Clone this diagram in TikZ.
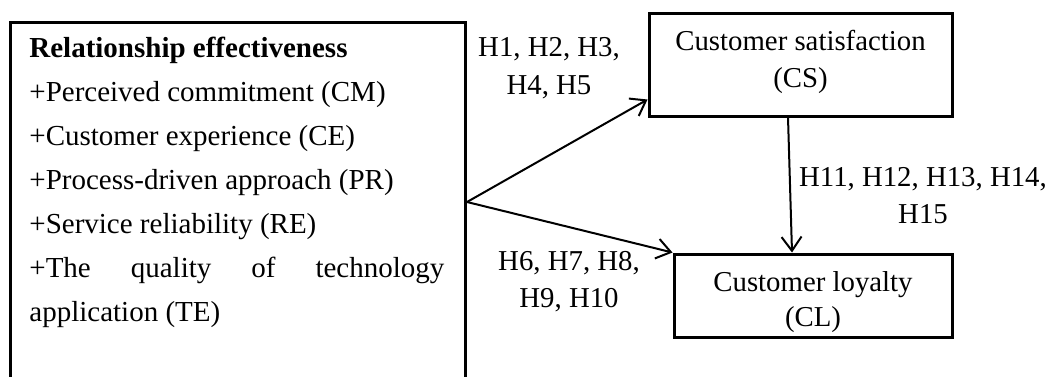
\documentclass[tikz,border=0pt]{standalone}
\usepackage{fontspec}
\setmainfont{Liberation Serif}
\usetikzlibrary{arrows.meta, positioning}

\begin{document}
\begin{tikzpicture}[x=0.5pt, y=-0.5pt, >={Straight Barb[length=7pt, width=10pt]},
    box/.style={draw, line width=1.5pt, inner sep=0pt},
    hyp/.style={align=center, inner sep=0pt, font=\fontsize{14.4pt}{#1}\selectfont},
    link/.style={->, line width=1pt}]
    \useasboundingbox (0,0) rectangle (1052,376);
    \clip (0,0) rectangle (1052,376);

    % Left box, runs past the bottom edge
    \node[box, anchor=north west, minimum width=227.5pt, minimum height=179.5pt] (rel) at (9,21) {};
    \node[anchor=north west, inner sep=0pt, text width=207.5pt, align=justify,
          font=\fontsize{14.5pt}{22pt}\selectfont] (reltext) at (29,37)
        {\textbf{Relationship effectiveness}\\
         +Perceived commitment (CM)\\
         +Customer experience (CE)\\
         +Process-driven approach (PR)\\
         +Service reliability (RE)\\
         +The quality of technology\linebreak application (TE)};

    % Outcome boxes
    \node[box, minimum width=151.5pt, minimum height=51.5pt, hyp=18.5pt] (cs) at (800.5,64.5)
        {Customer satisfaction\\(CS)\rule[-5.2pt]{0pt}{0pt}};
    \node[box, minimum width=139pt, minimum height=41.5pt, hyp=17.5pt] (cl) at (813,295.5)
        {\rule{0pt}{16.8pt}Customer loyalty\\(CL)};

    % Hypotheses
    \node[hyp=19pt] (hcs) at (549,68) {H1, H2, H3,\\H4, H5};
    \node[hyp=18.5pt] (hcl) at (569,281.5) {H6, H7, H8,\\H9, H10};
    \node[hyp=18.5pt] (hsl) at (923,195.5) {H11, H12, H13, H14,\\H15};

    % Paths
    \draw[link] (rel.east) -- ([yshift=9pt]cs.south west);
    \draw[link] (rel.east) -- (cl.north west);
    \draw[link] ([xshift=-6.25pt]cs.south) -- ([xshift=-10.5pt]cl.north);
\end{tikzpicture}
\end{document}
